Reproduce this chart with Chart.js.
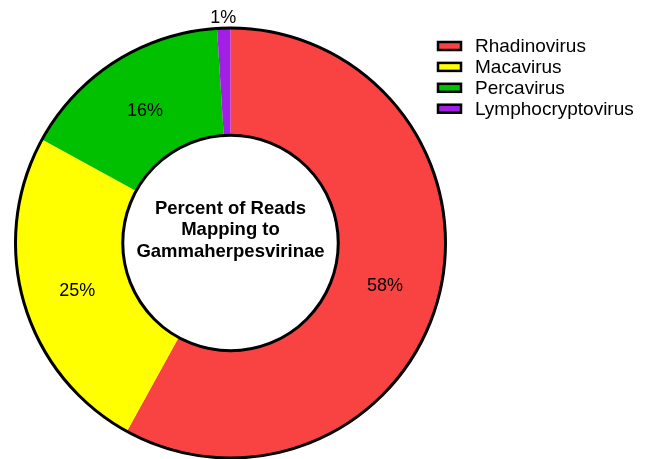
<!DOCTYPE html>
<html>
<head>
<meta charset="utf-8">
<script src="https://cdn.jsdelivr.net/npm/chart.js@4/dist/chart.umd.min.js"></script>
<style>
html,body{margin:0;padding:0;background:#fff;}
#wrap{width:646px;height:459px;position:relative;}
</style>
</head>
<body>
<div id="wrap"><canvas id="c" width="646" height="459"></canvas></div>
<script>
const categories = ['Rhadinovirus', 'Macavirus', 'Percavirus', 'Lymphocryptovirus'];
const percentValues = [58, 25, 16, 1];
const sliceColors = ['#F94343', '#FFFF00', '#00C000', '#A21FE6'];
const centerTitle = ['Percent of Reads', 'Mapping to', 'Gammaherpesvirinae'];

const FONT = '"Liberation Sans", Arial, sans-serif';

const decor = {
  id: 'decor',
  afterDatasetsDraw(chart) {
    const ctx = chart.ctx;
    const meta = chart.getDatasetMeta(0);
    const arcs = meta.data;
    if (!arcs.length) return;
    const a0 = arcs[0];
    const cx = a0.x, cy = a0.y;
    const outerR = a0.outerRadius, innerR = a0.innerRadius;
    ctx.save();
    ctx.strokeStyle = '#000';
    ctx.lineWidth = 3;
    ctx.beginPath();
    ctx.arc(cx, cy, outerR - 0.5, 0, Math.PI * 2);
    ctx.stroke();
    ctx.beginPath();
    ctx.arc(cx, cy, innerR, 0, Math.PI * 2);
    ctx.stroke();

    ctx.fillStyle = '#000';
    ctx.font = '18px ' + FONT;
    ctx.textAlign = 'center';
    ctx.textBaseline = 'middle';
    arcs.forEach((arc, i) => {
      const v = percentValues[i];
      const mid = (arc.startAngle + arc.endAngle) / 2;
      let r;
      if (v < 5) r = arc.outerRadius + 13;
      else r = (arc.innerRadius + arc.outerRadius) / 2 - 2;
      const x = cx + Math.cos(mid) * r;
      const y = cy + Math.sin(mid) * r + 3;
      ctx.fillText(v + '%', x, y);
    });

    ctx.font = 'bold 18.5px ' + FONT;
    const lh = 21.5;
    const startY = cy - lh * (centerTitle.length - 1) / 2 - 13;
    centerTitle.forEach((t, i) => ctx.fillText(t, cx, startY + i * lh));

    const lx = 438, ly0 = 46, lstep = 20.9;
    ctx.textAlign = 'left';
    ctx.font = '19px ' + FONT;
    categories.forEach((name, i) => {
      const y = ly0 + i * lstep;
      ctx.fillStyle = sliceColors[i];
      ctx.fillRect(lx, y - 4, 23, 8);
      ctx.strokeStyle = '#000';
      ctx.lineWidth = 2.5;
      ctx.strokeRect(lx, y - 4, 23, 8);
      ctx.fillStyle = '#000';
      ctx.fillText(name, lx + 37, y + 1);
    });
    ctx.restore();
  }
};

new Chart(document.getElementById('c'), {
  type: 'doughnut',
  data: {
    labels: categories,
    datasets: [{
      data: percentValues,
      backgroundColor: sliceColors,
      borderWidth: 0,
      hoverOffset: 0
    }]
  },
  options: {
    responsive: false,
    animation: false,
    cutout: '50%',
    rotation: 0,
    layout: { padding: { left: 15, top: 27, right: 200, bottom: 0 } },
    plugins: {
      legend: { display: false },
      tooltip: { enabled: false }
    },
    events: []
  },
  plugins: [decor]
});
</script>
</body>
</html>
